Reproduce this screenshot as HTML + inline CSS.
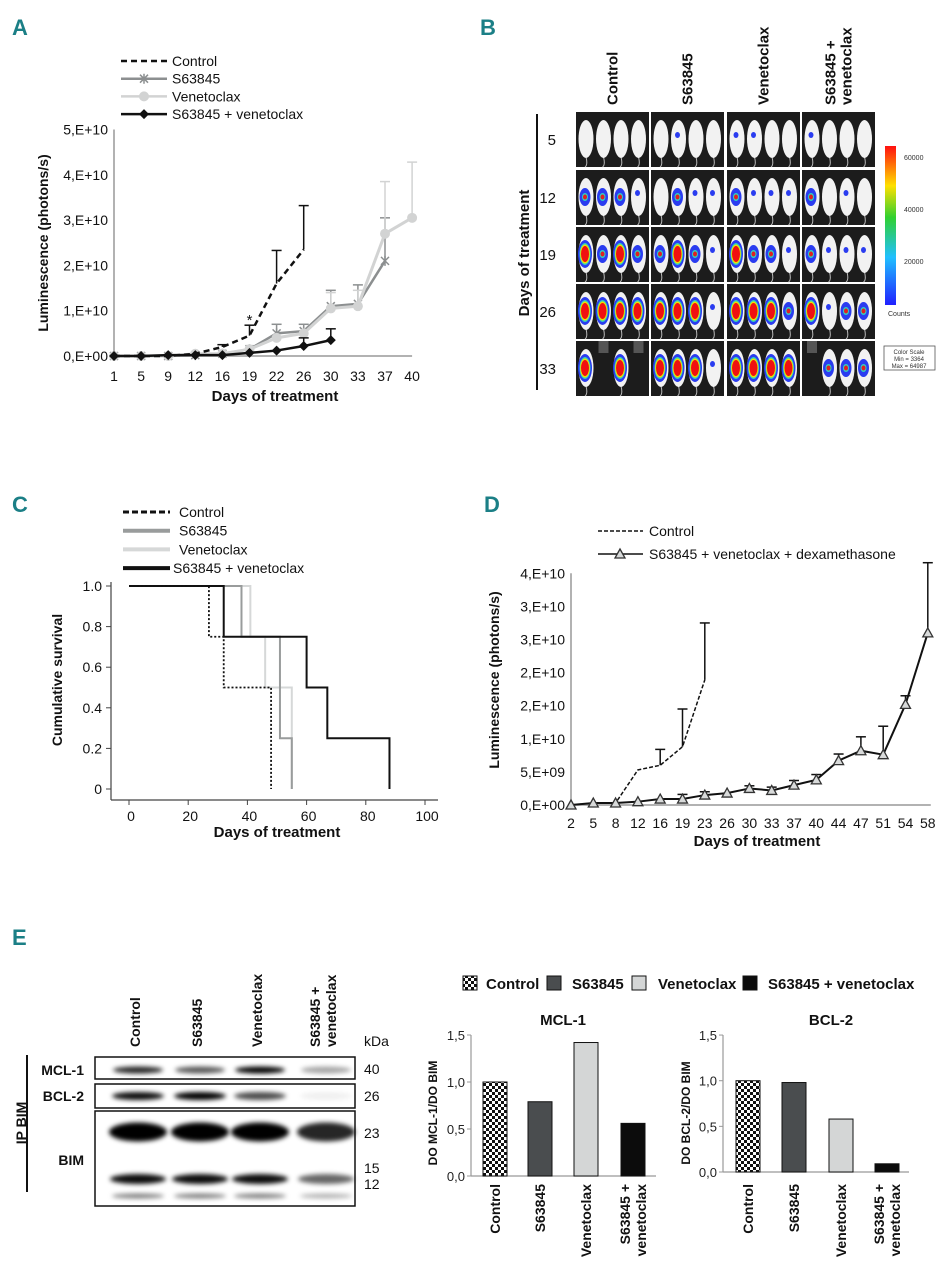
<!DOCTYPE html>
<html><head><meta charset="utf-8"><style>
body{margin:0;background:#fff}
svg{display:block;font-family:"Liberation Sans",Arial,sans-serif}
.pl{font-family:"Liberation Sans",sans-serif;font-weight:bold;fill:#1b7f86;font-size:22px}
</style></head><body>
<svg id="s" width="952" height="1280" viewBox="0 0 952 1280">
<defs>
<pattern id="chk" width="6" height="6" patternUnits="userSpaceOnUse"><rect width="6" height="6" fill="#fff"/><rect width="3" height="3" fill="#111"/><rect x="3" y="3" width="3" height="3" fill="#111"/></pattern>
<linearGradient id="cbar" x1="0" y1="1" x2="0" y2="0"><stop offset="0" stop-color="#2020ff"/><stop offset="0.3" stop-color="#20c0ff"/><stop offset="0.55" stop-color="#30d030"/><stop offset="0.75" stop-color="#ffe000"/><stop offset="1" stop-color="#ff1010"/></linearGradient>
<filter id="bl" x="-30%" y="-150%" width="160%" height="400%"><feGaussianBlur stdDeviation="2.5"/></filter>
</defs>
<text class="pl" x="12" y="35">A</text>
<text class="pl" x="480" y="35">B</text>
<text class="pl" x="12" y="512">C</text>
<text class="pl" x="484" y="512">D</text>
<text class="pl" x="12" y="945">E</text>
<g id="gA"></g>
<g id="gB"></g>
<g id="gC"></g>
<g id="gD"></g>
<g id="gE"></g>
<g id="gF"></g>
</svg>
<script>
const aDays=["1","5","9","12","16","19","22","26","30","33","37","40"];
const aYTicks=["0,E+00","1,E+10","2,E+10","3,E+10","4,E+10","5,E+10"];
const aControl=[0,0,0,0.05,0.2,0.45,1.6,2.35];
const aControlErr=[0,0,0,0.05,0.25,0.68,2.33,3.32];
const aS63845=[0,0,0,0.02,0.05,0.15,0.5,0.55,1.1,1.15,2.1];
const aS63845Err=[0,0,0,0.02,0.05,0.15,0.7,0.7,1.45,1.57,3.05];
const aVen=[0,0,0,0.05,0.05,0.15,0.4,0.5,1.05,1.1,2.7,3.05];
const aVenErr=[0,0,0,0.05,0.05,0.15,0.4,0.5,1.4,1.45,3.85,4.28];
const aCombo=[0,0,0.02,0.02,0.02,0.07,0.12,0.22,0.35];
const aComboErr=[0,0,0.02,0.02,0.02,0.07,0.12,0.4,0.6];
const bDays=["5","12","19","26","33"];
const bGroups=["Control","S63845","Venetoclax","S63845 +|venetoclax"];
const bInt=[
 [[0,0,0,0],[0,1,0,0],[1,1,0,0],[1,0,0,0]],
 [[2,2,2,1],[0,2,1,1],[2,1,1,1],[2,0,1,0]],
 [[3,2,3,2],[2,3,2,1],[3,2,2,1],[2,1,1,1]],
 [[3,3,3,3],[3,3,3,1],[3,3,3,2],[3,1,2,2]],
 [[3,-1,3,-1],[3,3,3,1],[3,3,3,3],[-1,2,2,2]]];
const cTicksX=[0,20,40,60,80,100];
const cTicksY=["0","0.2","0.4","0.6","0.8","1.0"];
const cControlT=[27,32,48], cControlS=[0.75,0.5,0];
const cS63845T=[38,51,55], cS63845S=[0.75,0.25,0];
const cVenT=[41,46,55], cVenS=[0.75,0.5,0];
const cComboT=[32,60,67,88], cComboS=[0.75,0.5,0.25,0];
const dDays=["2","5","8","12","16","19","23","26","30","33","37","40","44","47","51","54","58"];
const dYTicks=["0,E+00","5,E+09","1,E+10","2,E+10","2,E+10","3,E+10","3,E+10","4,E+10"];
const dControl=[0,0.3,0.3,5.3,6.0,8.8,18.9];
const dControlErr=[0,0.3,0.3,5.3,8.4,14.5,27.5];
const dCombo=[0,0.3,0.3,0.5,0.9,0.9,1.5,1.8,2.5,2.2,3.0,3.8,6.7,8.2,7.6,15.2,26.0];
const dComboErr=[0,0.3,0.3,0.5,0.9,1.6,2.0,1.8,2.9,2.7,3.7,4.6,7.7,10.3,11.9,16.5,36.6];
const eCats=["Control","S63845","Venetoclax","S63845 +|venetoclax"];
const eMcl=[1.0,0.79,1.42,0.56];
const eBcl=[1.0,0.98,0.58,0.09];
const eYTicks=[0,0.5,1.0,1.5];
const eFills=["url(#chk)","#4a4d4f","#d4d6d6","#0c0c0c"];

const NS="http://www.w3.org/2000/svg";
function mk(p,tag,at,txt){const e=document.createElementNS(NS,tag);for(const k in at)e.setAttribute(k,at[k]);if(txt!==undefined)e.textContent=txt;p.appendChild(e);return e;}
function rtext(p,x,y,lines,fs,anchor,lh){const t=mk(p,'text',{x:0,y:0,transform:`translate(${x},${y}) rotate(-90)`,'font-size':fs,'font-weight':'bold','text-anchor':anchor||'middle',fill:'#111'});lines.forEach((l,i)=>{mk(t,'tspan',{x:0,dy:i?lh:0},l);});return t;}

(function(){
const g=document.getElementById('gA');
const x0=114,dx=27.1,y0=356,sy=45.3;
const X=i=>x0+i*dx, Y=v=>y0-v*sy;
mk(g,'line',{x1:x0,y1:Y(5),x2:x0,y2:y0,stroke:'#999','stroke-width':1.5});
mk(g,'line',{x1:x0,y1:y0,x2:X(11),y2:y0,stroke:'#999','stroke-width':1.5});
aYTicks.forEach((t,i)=>{const e=mk(g,'text',{x:x0-6,y:Y(i)+5,'text-anchor':'end','font-size':14,fill:'#111'},t);
});
aDays.forEach((t,i)=>{const e=mk(g,'text',{x:X(i),y:381,'text-anchor':'middle','font-size':14,fill:'#111'},t);
});
mk(g,'text',{x:275,y:401,'text-anchor':'middle','font-size':15,'font-weight':'bold',fill:'#111'},'Days of treatment');
rtext(g,48,243,['Luminescence (photons/s)'],14);
function series(vals,errs,col,w,dash,marker,name){
 const sg=mk(g,'g',{});
 vals.forEach((v,i)=>{if(errs[i]>v+0.02){mk(sg,'line',{x1:X(i),y1:Y(v),x2:X(i),y2:Y(errs[i]),stroke:col,'stroke-width':1.5});mk(sg,'line',{x1:X(i)-5,y1:Y(errs[i]),x2:X(i)+5,y2:Y(errs[i]),stroke:col,'stroke-width':1.5});}});
 mk(sg,'polyline',{points:vals.map((v,i)=>X(i)+','+Y(v)).join(' '),fill:'none',stroke:col,'stroke-width':w,'stroke-dasharray':dash||'none'});
 vals.forEach((v,i)=>marker(sg,X(i),Y(v)));
}
const none=()=>{};
const circ=(c)=>(p,x,y)=>mk(p,'circle',{cx:x,cy:y,r:5,fill:c});
const star=(c)=>(p,x,y)=>{mk(p,'path',{d:`M${x-4},${y-4}L${x+4},${y+4}M${x-4},${y+4}L${x+4},${y-4}M${x},${y-5}L${x},${y+5}`,stroke:c,'stroke-width':1.5});};
const dia=(c)=>(p,x,y)=>mk(p,'path',{d:`M${x},${y-5}L${x+5},${y}L${x},${y+5}L${x-5},${y}Z`,fill:c});
series(aS63845,aS63845Err,'#8c8f90',2.5,null,star('#8c8f90'),'a-series-s63845');
series(aVen,aVenErr,'#d2d3d3',3,null,circ('#d2d3d3'),'a-series-venetoclax');
series(aControl,aControlErr,'#111',2.5,'6,4',none,'a-series-control');
series(aCombo,aComboErr,'#111',2.5,null,dia('#111'),'a-series-combo');
mk(g,'text',{x:X(5),y:Y(0.6)-4,'text-anchor':'middle','font-size':15,fill:'#111'},'*');
const leg=[['Control','#111','6,4',none],['S63845','#8c8f90',null,star('#8c8f90')],['Venetoclax','#d2d3d3',null,circ('#d2d3d3')],['S63845 + venetoclax','#111',null,dia('#111')]];
leg.forEach((l,i)=>{const y=61+i*17.7;const lg=mk(g,'g',{});
 mk(lg,'line',{x1:121,y1:y,x2:167,y2:y,stroke:l[1],'stroke-width':2.5,'stroke-dasharray':l[2]||'none'});l[3](lg,144,y);
 mk(lg,'text',{x:172,y:y+5,'font-size':14,fill:'#111'},l[0]);});
})();

(function(){
const g=document.getElementById('gB');
const cx=[576,651,727,802],cw=73,ry=[112,170,227,284,341],rh=55;
mk(g,'line',{x1:537,y1:114,x2:537,y2:390,stroke:'#111','stroke-width':2});
rtext(g,529,253,['Days of treatment'],15);
bDays.forEach((d,r)=>{const e=mk(g,'text',{x:556,y:ry[r]+33,'text-anchor':'end','font-size':15,fill:'#111'},d);});
bGroups.forEach((n,c)=>{const l=n.split('|');const e=rtext(g,cx[c]+cw/2+(l.length>1?-3:5),105,l,15,'start',16);});
bInt.forEach((row,r)=>row.forEach((mice,c)=>{
 const cg=mk(g,'g',{});
 const x=cx[c],y=ry[r];
 mk(cg,'rect',{x:x,y:y,width:cw,height:rh,fill:'#1c1c1c'});
 mice.forEach((m,k)=>{
  const mx=x+10+k*17.5, my=y+27;
  if(m<0){mk(cg,'rect',{x:mx-5,y:y,width:10,height:12,fill:'#555'});return;}
  mk(cg,'path',{d:`M${mx},${my+18} Q${mx+2},${my+26} ${mx-1},${my+28}`,stroke:'#bbb','stroke-width':1,fill:'none'});
  mk(cg,'ellipse',{cx:mx,cy:my,rx:7.5,ry:19,fill:'#f2f2f2'});
  if(m>=1){mk(cg,'ellipse',{cx:mx-1,cy:my+(m>=2?0:-4),rx:m>=3?7:(m>=2?5.5:2.5),ry:m>=3?14:(m>=2?9:3),fill:'#2a3cf0'});}
  if(m>=2){mk(cg,'ellipse',{cx:mx-1,cy:my,rx:m>=3?5.5:3,ry:m>=3?11:4,fill:'#30d0c0'});mk(cg,'ellipse',{cx:mx-1,cy:my,rx:m>=3?4.8:2,ry:m>=3?9.5:2.5,fill:m>=3?'#f0e000':'#e02020'});}
  if(m>=3){mk(cg,'ellipse',{cx:mx-1,cy:my,rx:4,ry:8,fill:'#f01010'});}
 });
}));
mk(g,'rect',{x:885,y:146,width:11,height:159,fill:'url(#cbar)'});
[['60000',157],['40000',209],['20000',261]].forEach(a=>mk(g,'text',{x:904,y:a[1]+3,'font-size':7,fill:'#333'},a[0]));
mk(g,'text',{x:888,y:316,'font-size':7,fill:'#333'},'Counts');
mk(g,'rect',{x:884,y:346,width:51,height:24,fill:'#fff',stroke:'#555','stroke-width':0.8});
['Color Scale','Min = 3364','Max = 64987'].forEach((t,i)=>mk(g,'text',{x:909,y:354+i*7,'font-size':6,'text-anchor':'middle',fill:'#333'},t));
})();

(function(){
const g=document.getElementById('gC');
const X=t=>129+t*2.96, Y=s=>789-s*203;
mk(g,'line',{x1:111,y1:582,x2:111,y2:800,stroke:'#444','stroke-width':1.2});
mk(g,'line',{x1:111,y1:800,x2:438,y2:800,stroke:'#444','stroke-width':1.2});
cTicksY.forEach((t,i)=>{mk(g,'line',{x1:106,y1:Y(i*0.2),x2:111,y2:Y(i*0.2),stroke:'#444'});const e=mk(g,'text',{x:102,y:Y(i*0.2)+5,'text-anchor':'end','font-size':14,fill:'#111'},t);});
cTicksX.forEach(t=>{mk(g,'line',{x1:X(t),y1:800,x2:X(t),y2:805,stroke:'#444'});const e=mk(g,'text',{x:X(t)+2,y:821,'text-anchor':'middle','font-size':14,fill:'#111'},String(t));});
mk(g,'text',{x:277,y:837,'text-anchor':'middle','font-size':15,'font-weight':'bold',fill:'#111'},'Days of treatment');
rtext(g,62,680,['Cumulative survival'],14);
function km(T,S,col,w,dash,name){let d=`M${X(0)},${Y(1)}`,s=1;T.forEach((t,i)=>{d+=`L${X(t)},${Y(s)}L${X(t)},${Y(S[i])}`;s=S[i];});
 const p=mk(g,'path',{d:d,fill:'none',stroke:col,'stroke-width':w,'stroke-dasharray':dash||'none'});}
km(cVenT,cVenS,'#d6d8d8',2,null,'c-series-venetoclax');
km(cS63845T,cS63845S,'#999c9c',2,null,'c-series-s63845');
km(cComboT,cComboS,'#111',2,null,'c-series-combo');
km(cControlT,cControlS,'#111',1.8,'2,2','c-series-control');
[['Control','#111','6,3',3],[' S63845','#999c9c',null,4],['Venetoclax','#d6d8d8',null,4],['S63845 + venetoclax','#111',null,4]].forEach((l,i)=>{const y=512+i*18.7;const lg=mk(g,'g',{});
 mk(lg,'line',{x1:123,y1:y,x2:170,y2:y,stroke:l[1],'stroke-width':l[3],'stroke-dasharray':l[2]||'none'});mk(lg,'text',{x:i==3?173:179,y:y+5,'font-size':14,fill:'#111'},l[0]);});
})();

(function(){
const g=document.getElementById('gD');
const x0=571,dx=22.3,y0=805,sy=33.1/5;
const X=i=>x0+i*dx, Y=v=>y0-v*sy;
mk(g,'line',{x1:x0,y1:Y(35),x2:x0,y2:y0,stroke:'#999','stroke-width':1.5});
mk(g,'line',{x1:x0,y1:y0,x2:X(16)+3,y2:y0,stroke:'#999','stroke-width':1.5});
dYTicks.forEach((t,i)=>{const e=mk(g,'text',{x:x0-6,y:Y(i*5)+5,'text-anchor':'end','font-size':14,fill:'#111'},t);});
dDays.forEach((t,i)=>{const e=mk(g,'text',{x:X(i),y:828,'text-anchor':'middle','font-size':14,fill:'#111'},t);});
mk(g,'text',{x:757,y:846,'text-anchor':'middle','font-size':15,'font-weight':'bold',fill:'#111'},'Days of treatment');
rtext(g,499,680,['Luminescence (photons/s)'],14);
function series(vals,errs,dash,tri,name){const sg=mk(g,'g',{});
 vals.forEach((v,i)=>{if(errs[i]>v+0.3){mk(sg,'line',{x1:X(i),y1:Y(v),x2:X(i),y2:Y(errs[i]),stroke:'#111','stroke-width':1.5});mk(sg,'line',{x1:X(i)-5,y1:Y(errs[i]),x2:X(i)+5,y2:Y(errs[i]),stroke:'#111','stroke-width':1.5});}});
 mk(sg,'polyline',{points:vals.map((v,i)=>X(i)+','+Y(v)).join(' '),fill:'none',stroke:'#111','stroke-width':dash?1.5:2,'stroke-dasharray':dash||'none'});
 if(tri)vals.forEach((v,i)=>mk(sg,'path',{d:`M${X(i)},${Y(v)-5}L${X(i)+5},${Y(v)+4}L${X(i)-5},${Y(v)+4}Z`,fill:'#d8dada',stroke:'#333','stroke-width':1.3}));}
series(dControl,dControlErr,'4,2',false,'d-series-control');
series(dCombo,dComboErr,null,true,'d-series-combo');
let lg=mk(g,'g',{});
mk(lg,'line',{x1:598,y1:531,x2:643,y2:531,stroke:'#111','stroke-width':1.5,'stroke-dasharray':'4,2'});mk(lg,'text',{x:649,y:536,'font-size':14,fill:'#111'},'Control');
lg=mk(g,'g',{});
mk(lg,'line',{x1:598,y1:554,x2:643,y2:554,stroke:'#111','stroke-width':1.5});mk(lg,'path',{d:'M620,549L625,558L615,558Z',fill:'#d8dada',stroke:'#333','stroke-width':1.3});
mk(lg,'text',{x:649,y:559,'font-size':14,fill:'#111'},'S63845 + venetoclax + dexamethasone');
})();

(function(){
const g=document.getElementById('gE');
const lanes=[135,197,257,323];
eCats.forEach((n,i)=>{const l=n.split('|');const e=rtext(g,lanes[i]+5-(l.length>1?8:0),1047,l,14,'start',16);});
mk(g,'text',{x:364,y:1046,'font-size':14,fill:'#111'},'kDa');
[['40',1074],['26',1101],['23',1138],['15',1173],['12',1189]].forEach(a=>{const e=mk(g,'text',{x:364,y:a[1],'font-size':14,fill:'#111'},a[0]);});
[['MCL-1',1075],['BCL-2',1101],['BIM',1165]].forEach(a=>{const e=mk(g,'text',{x:84,y:a[1],'text-anchor':'end','font-size':14,'font-weight':'bold',fill:'#111'},a[0]);});
mk(g,'line',{x1:27,y1:1055,x2:27,y2:1192,stroke:'#111','stroke-width':2});
rtext(g,26,1123,['IP BIM'],14);
const boxes=[[1057,22],[1084,24],[1111,95]];
boxes.forEach(b=>{const r=mk(g,'rect',{x:95,y:b[0],width:260,height:b[1],fill:'#fff',stroke:'#111','stroke-width':1.5});});
const band=(x,y,w,h,o)=>mk(g,'ellipse',{cx:x,cy:y,rx:w,ry:h,fill:'#000','fill-opacity':o,filter:'url(#bl)'});
[0.85,0.65,1,0.35].forEach((o,i)=>band(lanes[i]+3,1070,25,3.5,o));
[0.95,1,0.7,0.06].forEach((o,i)=>band(lanes[i]+3,1096,26,4,o));
[1,1,1,0.85].forEach((o,i)=>band(lanes[i]+3,1132,29,9.5,o));
[0.95,0.95,0.95,0.6].forEach((o,i)=>band(lanes[i]+3,1179,28,5,o));
[0.5,0.5,0.5,0.3].forEach((o,i)=>band(lanes[i]+3,1196,26,2.5,o));
})();

(function(){
const g=document.getElementById('gF');
const lg=[[463,'Control',486],[547,'S63845',572],[632,'Venetoclax',658],[743,'S63845 + venetoclax',768]];
lg.forEach((l,i)=>{const e=mk(g,'g',{});
 mk(e,'rect',{x:l[0],y:976,width:14,height:14,fill:eFills[i],stroke:'#111','stroke-width':1});mk(e,'text',{x:l[2],y:989,'font-size':15,'font-weight':'bold',fill:'#111'},l[1]);});
function bars(ax,y0,unit,xend,centers,vals,title,tx,ytitle,ytx,pre){
 mk(g,'line',{x1:ax,y1:y0-1.5*unit,x2:ax,y2:y0,stroke:'#999','stroke-width':1.2});
 mk(g,'line',{x1:ax,y1:y0,x2:xend,y2:y0,stroke:'#999','stroke-width':1.2});
 eYTicks.forEach(t=>{mk(g,'line',{x1:ax-4,y1:y0-t*unit,x2:ax,y2:y0-t*unit,stroke:'#999'});const e=mk(g,'text',{x:ax-6,y:y0-t*unit+5,'text-anchor':'end','font-size':13,fill:'#222'},t.toFixed(1).replace('.',','));});
 vals.forEach((v,i)=>{const r=mk(g,'rect',{x:centers[i]-12,y:y0-v*unit,width:24,height:v*unit,fill:eFills[i],stroke:'#111','stroke-width':1});
  const l=eCats[i].split('|');const e=rtext(g,centers[i]+5-(l.length>1?8:0),1184,l,14,'end',16);});
 mk(g,'text',{x:tx,y:1025,'text-anchor':'middle','font-size':15,'font-weight':'bold',fill:'#111'},title);
 rtext(g,ytx,1113,[ytitle],12);
}
bars(471,1176,94,656,[495,540,586,633],eMcl,'MCL-1',563,'DO MCL-1/DO BIM',437,'mcl1');
bars(723,1172,91.3,909,[748,794,841,887],eBcl,'BCL-2',831,'DO BCL-2/DO BIM',690,'bcl2');
})();
</script>
</body></html>
